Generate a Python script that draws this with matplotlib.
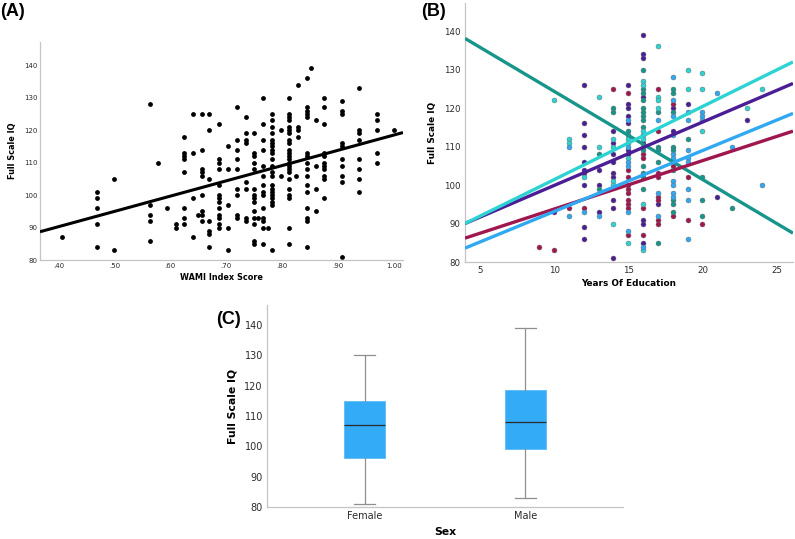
import matplotlib
matplotlib.use('Agg')
import matplotlib.pyplot as plt
import numpy as np

plt.rcParams['font.family'] = ['DejaVu Sans']

# ---------------- Panel A data: WAMI index score vs Full Scale IQ ----------------
wami_cols = [0.406, 0.469, 0.500, 0.563, 0.578, 0.594, 0.610, 0.625, 0.641, 0.650,
             0.656, 0.669, 0.687, 0.703, 0.719, 0.735, 0.750, 0.756, 0.766, 0.775,
             0.781, 0.797, 0.813, 0.824, 0.829, 0.844, 0.851, 0.860, 0.875, 0.907,
             0.938, 0.970, 1.000]
wami_iq_by_col = [
    [87],
    [101, 99, 96, 91, 84],
    [105, 83],
    [128, 97, 94, 92, 86],
    [110],
    [96],
    [91, 90],
    [118, 113, 112, 111, 107, 96, 93, 91],
    [125, 113, 99, 87],
    [94],
    [125, 114, 108, 107, 106, 100, 95, 94, 92],
    [125, 120, 105, 92, 89, 88, 84],
    [122, 111, 110, 108, 103, 100, 99, 98, 96, 94, 93, 91, 90],
    [115, 108, 97, 90, 83],
    [127, 117, 114, 111, 108, 102, 100, 94, 93],
    [124, 119, 117, 116, 104, 102, 93, 92],
    [119, 113, 112, 110, 108, 102, 100, 99, 98, 95, 93, 91, 86, 85],
    [93],
    [130, 122, 117, 114, 109, 106, 103, 101, 100, 96, 93, 92, 90, 85],
    [90],
    [125, 123, 121, 119, 117, 116, 115, 114, 113, 111, 109, 107, 106, 103, 102, 101,
     100, 99, 98, 97, 83],
    [120, 106],
    [130, 125, 124, 123, 121, 120, 119, 117, 116, 114, 113, 112, 111, 110, 109, 108,
     107, 105, 102, 100, 99, 90, 85],
    [106],
    [134, 121, 120, 118],
    [136, 127, 126, 125, 124, 113, 112, 110, 108, 106, 103, 101, 96, 93, 92, 84],
    [139],
    [123, 109, 102, 95],
    [130, 127, 122, 113, 112, 110, 109, 108, 106, 105, 99],
    [129, 126, 125, 116, 115, 111, 109, 106, 104, 81],
    [133, 120, 119, 117, 111, 108, 105, 101],
    [125, 123, 120, 113, 110],
    [120],
]
wami_fit = (71.43, 47.05)  # intercept, slope
wami_ticks = [0.40, 0.50, 0.60, 0.70, 0.80, 0.90, 1.00]
wami_ticklabels = ['.40', '.50', '.60', '.70', '.80', '.90', '1.00']
iq_ticks = [80, 90, 100, 110, 120, 130, 140]

# ---------------- Panel B data: years of education vs IQ, five groups ----------------
purple_years = [10, 12, 12, 12, 12, 12, 12, 12, 12, 12, 12, 13, 13, 13,
                14, 14, 14, 14, 14, 14, 14, 14, 14, 15, 15, 15, 15, 15, 15, 15,
                16, 16, 16, 16, 16, 16, 16, 16, 17, 18, 18, 19, 21, 23]
purple_iq = [93, 126, 116, 113, 110, 106, 104, 103, 100, 89, 86, 104, 100, 93,
             114, 111, 108, 106, 103, 102, 96, 94, 81, 126, 121, 120, 118, 116, 109, 108,
             139, 134, 133, 123, 111, 91, 90, 85, 95, 120, 114, 121, 97, 117]
crimson_years = [9, 10, 11, 12, 14, 15, 15, 15, 15, 15, 15, 15, 15, 15, 15, 16, 16, 16, 16,
                 17, 17, 17, 17, 17, 17, 17, 17, 18, 18, 18, 19, 19, 20]
crimson_iq = [84, 83, 94, 94, 125, 124, 104, 102, 100, 99, 98, 96, 95, 94, 87, 108, 107, 94,
              87, 125, 114, 103, 102, 97, 96, 91, 90, 121, 105, 92, 102, 91, 90]
teal_years = [13, 13, 14, 14, 15, 15, 16, 16, 16, 16, 16, 16, 16, 16, 16, 16, 16, 16, 16, 16,
              16, 16, 17, 17, 17, 17, 17, 18, 18, 18, 18, 18, 18, 18, 18, 18, 19, 20, 20, 20,
              22]
teal_iq = [108, 99, 120, 119, 114, 113, 130, 125, 124, 122, 120, 119, 118, 117, 115, 113, 110,
           109, 105, 103, 102, 99, 119, 110, 109, 106, 85, 125, 124, 119, 110, 109, 104, 96,
           95, 93, 112, 102, 96, 92, 94]
cyan_years = [10, 11, 11, 12, 13, 13, 14, 14, 14, 14, 14, 15, 15, 15, 16, 16, 16, 16, 16, 16,
              17, 17, 17, 17, 19, 19, 20, 20, 20, 23, 24]
cyan_iq = [122, 112, 111, 102, 123, 110, 112, 110, 101, 100, 90, 112, 107, 85, 127, 126, 114,
           112, 95, 83, 136, 123, 122, 120, 130, 125, 129, 125, 114, 120, 125]
blue_years = [11, 11, 12, 13, 15, 15, 15, 15, 15, 15, 15, 16, 17, 17, 17, 18, 18, 18, 18, 18,
              18, 18, 18, 18, 18, 19, 19, 19, 19, 19, 19, 19, 19, 20, 20, 20, 21, 22, 24]
blue_iq = [110, 92, 93, 92, 117, 111, 110, 106, 105, 93, 88, 84, 117, 98, 92, 128, 122, 118,
           113, 108, 107, 101, 100, 98, 97, 119, 117, 109, 107, 106, 99, 96, 86, 119, 118,
           117, 124, 110, 100]
# per-group regression lines (intercept, slope)
fit_purple = (83.41, 1.647)
fit_crimson = (81.17, 1.258)
fit_teal = (147.26, -2.29)
fit_cyan = (82.4, 1.90)
fit_blue = (77.27, 1.584)
educ_ticks = [5, 10, 15, 20, 25]

# ---------------- Panel C data: box plot by sex ----------------
sex_labels = ['Female', 'Male']
box_whislo = [81, 83]
box_q1 = [96, 99]
box_med = [107, 108]
box_q3 = [115, 118.5]
box_whishi = [130, 139]

W, H = 795, 539
fig = plt.figure(figsize=(W / 100, H / 100), dpi=100)

def ax_px(l, t, r, b):
    return fig.add_axes([l / W, 1 - b / H, (r - l) / W, (b - t) / H])

spine_col = '#c4c4c4'
tick_col = '#2a2a2a'

def style(ax):
    for s in ['top', 'right']:
        ax.spines[s].set_visible(False)
    for s in ['left', 'bottom']:
        ax.spines[s].set_color(spine_col)
        ax.spines[s].set_linewidth(0.9)
    ax.tick_params(length=0, colors=tick_col)

# ---- Panel A ----
axA = ax_px(40, 42, 403, 260)
style(axA)
xs, ys = [], []
for xv, col in zip(wami_cols, wami_iq_by_col):
    xs += [xv] * len(col)
    ys += col
axA.scatter(xs, ys, s=12, color='black', linewidths=0, zorder=2)
xl = np.array([0.367, 1.016])
axA.plot(xl, wami_fit[0] + wami_fit[1] * xl, color='black', lw=2.2, zorder=3,
         solid_capstyle='butt')
axA.set_xlim(0.367, 1.016)
axA.set_ylim(80, 147.1)
axA.set_xticks(wami_ticks)
axA.set_xticklabels(wami_ticklabels)
axA.set_yticks(iq_ticks)
axA.tick_params(labelsize=5, pad=2)
axA.set_xlabel('WAMI Index Score', fontsize=5.9, fontweight='bold', labelpad=3)
axA.set_ylabel('Full Scale IQ', fontsize=5.9, fontweight='bold', labelpad=5)

# ---- Panel B ----
axB = ax_px(465, 3, 793, 262)
style(axB)
groups = [
    (purple_years, purple_iq, fit_purple, '#4B1E96'),
    (crimson_years, crimson_iq, fit_crimson, '#A0174F'),
    (teal_years, teal_iq, fit_teal, '#17958A'),
    (cyan_years, cyan_iq, fit_cyan, '#2DD3D3'),
    (blue_years, blue_iq, fit_blue, '#30A8F2'),
]
for yrs, iq, fit, c in groups:
    axB.scatter(yrs, iq, s=13, color=c, edgecolors='#666666', linewidths=0.3, zorder=2)
xl = np.array([4.0, 26.1])
for yrs, iq, fit, c in [groups[2], groups[1], groups[4], groups[0], groups[3]]:
    axB.plot(xl, fit[0] + fit[1] * xl, color=c, lw=2.4, zorder=3, solid_capstyle='butt')
axB.set_xlim(4.0, 26.1)
axB.set_ylim(80, 147.3)
axB.set_xticks(educ_ticks)
axB.set_yticks(iq_ticks)
axB.tick_params(labelsize=6.2, pad=3)
axB.set_xlabel('Years Of Education', fontsize=6.4, fontweight='bold', labelpad=3)
axB.set_ylabel('Full Scale IQ', fontsize=6.4, fontweight='bold', labelpad=5)

# ---- Panel C ----
axC = ax_px(267, 305, 623, 507)
style(axC)
stats = []
for i in range(2):
    stats.append(dict(label=sex_labels[i], whislo=box_whislo[i], q1=box_q1[i],
                      med=box_med[i], q3=box_q3[i], whishi=box_whishi[i], fliers=[]))
axC.bxp(stats, positions=[0, 1], widths=0.255, patch_artist=True, showfliers=False,
        boxprops=dict(facecolor='#33ABF7', edgecolor='#5BBBF5', linewidth=0.6),
        medianprops=dict(color='#2b2b2b', linewidth=0.9),
        whiskerprops=dict(color='#8f8f8f', linewidth=0.9),
        capprops=dict(color='#8f8f8f', linewidth=0.9), capwidths=0.13)
axC.set_xlim(-0.606, 1.606)
axC.set_ylim(80, 146.6)
axC.set_yticks(iq_ticks)
axC.tick_params(labelsize=7, pad=3)
axC.set_xlabel('Sex', fontsize=7.8, fontweight='bold', labelpad=4)
axC.set_ylabel('Full Scale IQ', fontsize=7.8, fontweight='bold', labelpad=5)

# ---- panel labels ----
lab = dict(fontsize=13, fontweight='bold', family='Liberation Sans', va='center', ha='left')
fig.text(0 / W, 1 - 11 / H, '(A)', **lab)
fig.text(421 / W, 1 - 12 / H, '(B)', **lab)
fig.text(216 / W, 1 - 319 / H, '(C)', **lab)

fig.savefig('out.png', dpi=100)
